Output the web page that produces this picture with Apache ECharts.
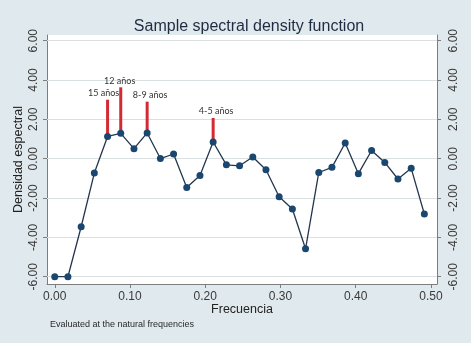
<!DOCTYPE html>
<html>
<head>
<meta charset="utf-8">
<script src="https://cdn.jsdelivr.net/npm/echarts@6/dist/echarts.min.js"></script>
<style>
  body { margin: 0; background: #fff; }
  #main { width: 474px; height: 346px; background: #e0e9ed; box-shadow: inset -3px -3px 0 #fff; }
</style>
</head>
<body>
<div id="main"></div>
<script>
// natural frequencies k/57, k = 0..28
const frecuencia = [
  0.0000, 0.0175, 0.0351, 0.0526, 0.0702, 0.0877, 0.1053, 0.1228, 0.1404, 0.1579,
  0.1754, 0.1930, 0.2105, 0.2281, 0.2456, 0.2632, 0.2807, 0.2982, 0.3158, 0.3333,
  0.3509, 0.3684, 0.3860, 0.4035, 0.4211, 0.4386, 0.4561, 0.4737, 0.4912
];
const densidad = [
  -6.00, -6.00, -3.46, -0.73, 1.13, 1.29, 0.51, 1.31, 0.01, 0.24,
  -1.46, -0.85, 0.85, -0.31, -0.36, 0.09, -0.56, -1.93, -2.56, -4.58,
  -0.70, -0.44, 0.80, -0.76, 0.42, -0.19, -1.03, -0.49, -2.81
];
// red spikes marking the cycles
const picoIndice = [4, 5, 7, 12];
const picoTope = [3.00, 3.63, 2.90, 2.07];
const picoEtiqueta = ["15 años", "12 años", "8-9 años", "4-5 años"];

const yTicks = [-6, -4, -2, 0, 2, 4, 6];
const xTicks = [0, 0.1, 0.2, 0.3, 0.4, 0.5];

// small horizontal nudges of the spike labels (px)
const etiquetaDx = [-4, -1, 3, 3];

let myChart = echarts.init(document.getElementById("main"));

const lineData = frecuencia.map((f, i) => [f, densidad[i]]);
const picoData = picoIndice.map((k, i) => [frecuencia[k], densidad[k], picoTope[i], picoEtiqueta[i]]);

const axisGrey = "#7d7d7d";
const labelStyle = { color: "#3a3a3a", fontSize: 12, fontFamily: "Liberation Sans" };

function yAxisCfg(pos, margin) {
  return {
    type: "value",
    position: pos,
    min: -6.37,
    max: 6.29,
    axisLine: { show: true, onZero: false, lineStyle: { color: axisGrey, width: 1 } },
    axisTick: { show: true, length: 4, customValues: yTicks, lineStyle: { color: axisGrey } },
    axisLabel: {
      customValues: yTicks,
      rotate: 90,
      margin: margin,
      formatter: (v) => v.toFixed(2),
      ...labelStyle,
    },
    splitLine: { show: false },
  };
}

let option = {
  backgroundColor: "transparent",
  animation: false,
  title: {
    text: "Sample spectral density function",
    left: 244,
    top: 14,
    textAlign: "center",
    textStyle: { color: "#1e2b40", fontSize: 16, fontWeight: "normal", fontFamily: "Liberation Sans" },
  },
  grid: {
    left: 47,
    right: 37,
    top: 35,
    bottom: 62,
    show: true,
    backgroundColor: "#ffffff",
    borderWidth: 0,
  },
  xAxis: {
    type: "value",
    min: -0.0103,
    max: 0.508,
    name: "Frecuencia",
    nameLocation: "middle",
    nameGap: 19,
    nameMoveOverlap: false,
    nameTextStyle: { color: "#222", fontSize: 12.5, fontFamily: "Liberation Sans" },
    axisLine: { show: true, onZero: false, lineStyle: { color: axisGrey, width: 1 } },
    axisTick: { show: true, length: 4, customValues: xTicks, lineStyle: { color: axisGrey } },
    axisLabel: {
      customValues: xTicks,
      margin: 7,
      formatter: (v) => v.toFixed(2),
      ...labelStyle,
    },
    splitLine: { show: false },
  },
  yAxis: [
    Object.assign(yAxisCfg("left", 7), {
      name: "Densidad espectral",
      nameLocation: "middle",
      nameGap: 22,
      nameMoveOverlap: false,
      nameTextStyle: { color: "#222", fontSize: 12.5, fontFamily: "Liberation Sans" },
    }),
    yAxisCfg("right", 11),
  ],
  graphic: [
    {
      type: "text",
      left: 50,
      top: 320,
      style: { text: "Evaluated at the natural frequencies", fill: "#2a2a2a", font: "9px Liberation Sans" },
    },
  ],
  series: [
    {
      type: "custom",
      yAxisIndex: 0,
      z: 2,
      data: picoData,
      renderItem: function (params, api) {
        const p0 = api.coord([api.value(0), api.value(1)]);
        const p1 = api.coord([api.value(0), api.value(2)]);
        return {
          type: "group",
          children: [
            {
              type: "line",
              shape: { x1: p0[0], y1: p0[1], x2: p1[0], y2: p1[1] },
              style: { stroke: "#d42a33", lineWidth: 3 },
            },
            {
              type: "text",
              x: p1[0] + etiquetaDx[params.dataIndex],
              y: p1[1] - 2,
              style: {
                text: picoData[params.dataIndex][3],
                textAlign: "center",
                textVerticalAlign: "bottom",
                font: "9px Lato",
                fill: "#333",
              },
            },
          ],
        };
      },
    },
    {
      type: "line",
      yAxisIndex: 0,
      z: 3,
      data: lineData,
      symbol: "circle",
      symbolSize: 7,
      lineStyle: { color: "#24364d", width: 1.3 },
      itemStyle: { color: "#1a476f" },
      markLine: {
        silent: true,
        symbol: "none",
        z: 1,
        label: { show: false },
        lineStyle: { color: "#dadfe2", width: 1, type: "solid" },
        data: yTicks.map((v) => ({ yAxis: v })),
      },
    },
  ],
};

myChart.setOption(option);
</script>
</body>
</html>
